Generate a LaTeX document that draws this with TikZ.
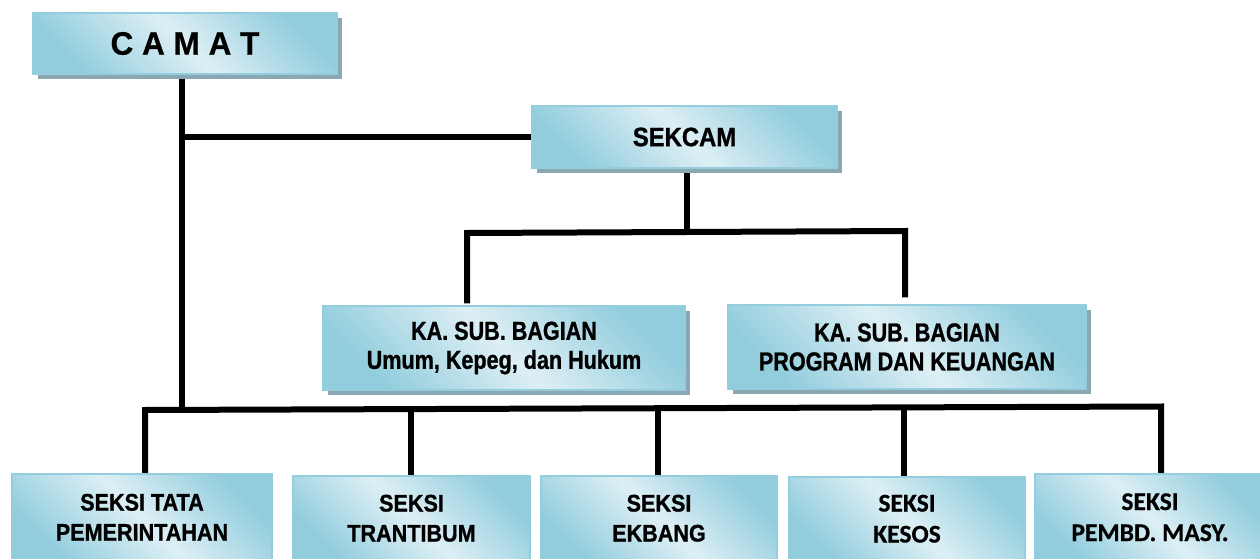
\documentclass[tikz,border=0pt]{standalone}
\usepackage{fontspec}
\setmainfont{Liberation Sans}
\newfontfamily\camatfont[FakeStretch=0.97,FakeBold=0.6]{Liberation Sans}
\newfontfamily\narrowK[FakeStretch=0.83,FakeBold=1]{Liberation Sans}
\newfontfamily\narrowS[FakeStretch=0.9,FakeBold=1]{Liberation Sans}
\newfontfamily\narrowB[FakeStretch=0.9,FakeBold=1]{Liberation Sans}
\newfontfamily\calfont[FakeBold=0.6]{Carlito}
\usetikzlibrary{shadows,backgrounds}
\definecolor{blight}{RGB}{221,239,245}
\definecolor{bdark}{RGB}{146,205,221}
\definecolor{bborder}{RGB}{148,206,222}
\definecolor{bshadow}{RGB}{139,167,177}
\tikzset{
  orgbox/.style={draw=bborder, line width=1.2pt, inner sep=0pt,
    top color=bdark, bottom color=bdark, middle color=blight, shading angle=-45,
    align=center, text=black},
  shadowed/.style={drop shadow={shadow xshift=5pt, shadow yshift=-5pt, fill=bshadow, opacity=1}},
  conn/.style={line width=6pt, draw=black, line join=miter},
  kafont/.style={font={\narrowK\bfseries\fontsize{26}{29}\selectfont}},
  seksifont/.style={font={\narrowB\bfseries\fontsize{24}{30}\selectfont}},
  calseksi/.style={font={\calfont\bfseries\fontsize{25.5}{31}\selectfont}},
}
\begin{document}
\begin{tikzpicture}[x=1pt,y=-1pt]
\useasboundingbox (0,0) rectangle (1260,559);

% boxes
\node[orgbox, shadowed, minimum width=304pt, minimum height=61pt,
  font={\camatfont\bfseries\fontsize{32.5}{36}\selectfont}] (camat) at (185,43.5) {C A M A T};
\node[orgbox, shadowed, minimum width=305pt, minimum height=62pt,
  font={\narrowS\bfseries\fontsize{26.5}{30}\selectfont}] (sekcam) at (684.5,137) {SEKCAM};
\node[orgbox, shadowed, kafont, minimum width=362pt, minimum height=84pt] (kaL) at (504,348)
  {KA. SUB. BAGIAN\\Umum, Kepeg, dan Hukum};
\node[orgbox, shadowed, kafont, minimum width=358pt, minimum height=84pt] (kaR) at (907,347)
  {KA. SUB. BAGIAN\\PROGRAM DAN KEUANGAN};

\node[orgbox, seksifont, minimum width=260pt, minimum height=86.5pt] (s1) at (142,517.25)
  {SEKSI TATA\\PEMERINTAHAN};
\node[orgbox, seksifont, minimum width=237pt, minimum height=84.5pt] (s2) at (411.5,518.25)
  {SEKSI\\TRANTIBUM};
\node[orgbox, seksifont, minimum width=236pt, minimum height=84.5pt] (s3) at (659,518.25)
  {SEKSI\\EKBANG};
\node[orgbox, calseksi, minimum width=236pt, minimum height=83.5pt] (s4) at (907,518.75)
  {SEKSI\\KESOS};
\node[orgbox, calseksi, minimum width=230pt, minimum height=86.5pt] (s5) at (1150,517.25)
  {SEKSI\\PEMBD. MASY.};

% junction coordinates
\coordinate (bc) at (182,409.9);
\coordinate (b1) at (145,410);
\coordinate (b2) at (411,409.1);
\coordinate (b3) at (658,408.2);
\coordinate (b4) at (904,407.4);
\coordinate (b5) at (1161,406.5);
\coordinate (k1) at (467,233);
\coordinate (kc) at (687,232);
\coordinate (k2) at (905,231);

\begin{pgfonlayer}{background}
\fill[white] (0,0) rectangle (1260,559);
\draw[conn] (camat.south -| bc) -- (bc);
\draw[conn] (sekcam.west) -- (sekcam.west -| bc);
\draw[conn] (sekcam.south -| kc) -- (kc);
\draw[conn, shorten <=2pt, shorten >=7pt] (kaL.north -| k1) -- (k1) -- (k2) -- (kaR.north -| k2);
\draw[conn] (s1.north -| b1) -- (b1) -- (b5) -- (s5.north -| b5);
\draw[conn] (b2) -- (s2.north -| b2);
\draw[conn] (b3) -- (s3.north -| b3);
\draw[conn] (b4) -- (s4.north -| b4);
\end{pgfonlayer}
\end{tikzpicture}
\end{document}
